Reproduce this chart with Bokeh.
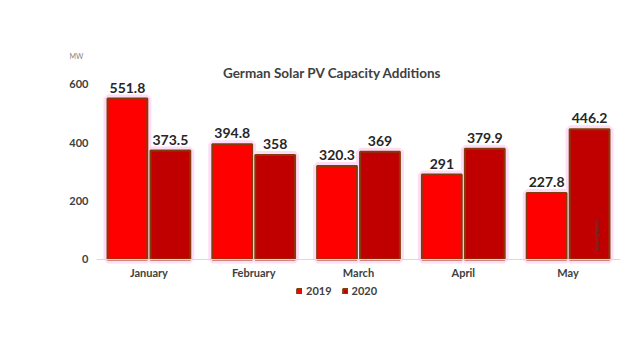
import math
from bokeh.plotting import figure
from bokeh.models import ColumnDataSource, FactorRange, FixedTicker, Label, Legend, LegendItem, Title
from bokeh.transform import dodge
from bokeh.core.properties import value
from bokeh.embed import file_html
from bokeh.resources import INLINE

months = ["January", "February", "March", "April", "May"]
y2019 = [551.8, 394.8, 320.3, 291, 227.8]
y2020 = [373.5, 358, 369, 379.9, 446.2]
y_ticks = [0, 200, 400, 600]

src = ColumnDataSource(dict(
    month=months,
    y2019=y2019,
    y2020=y2020,
    t2019=[f"{v:g}" for v in y2019],
    t2020=[f"{v:g}" for v in y2020],
))

FONT = "Lato"

p = figure(width=624, height=344, x_range=FactorRange(*months, range_padding=0),
           y_range=(-175, 689), output_backend="svg", toolbar_location=None,
           min_border_left=96, min_border_right=4, min_border_top=58, min_border_bottom=34)
p.outline_line_color = None
p.xgrid.visible = False
p.ygrid.visible = False

W = 0.38
OFF = 0.205
c19 = "#ff0000"
c20 = "#c00000"
edge = "#843c0c"
glow = "#ffdcf5"

x19 = dodge("month", -OFF, range=p.x_range)
x20 = dodge("month", OFF, range=p.x_range)

# glow
p.vbar(x=x19, top="y2019", width=W, source=src, fill_color=glow, line_color=glow, line_width=8)
p.vbar(x=x20, top="y2020", width=W, source=src, fill_color=glow, line_color=glow, line_width=8)
r19 = p.vbar(x=x19, top="y2019", width=W, source=src, fill_color=c19, line_color=edge, line_width=2)
r20 = p.vbar(x=x20, top="y2020", width=W, source=src, fill_color=c20, line_color=edge, line_width=2)

p.text(x=x19, y="y2019", text="t2019", source=src, text_align="center", text_baseline="bottom",
       y_offset=-6, text_font=value(FONT), text_font_style="bold", text_font_size="14px", text_color="#262626")
p.text(x=x20, y="y2020", text="t2020", source=src, text_align="center", text_baseline="bottom",
       y_offset=-6, text_font=value(FONT), text_font_style="bold", text_font_size="14px", text_color="#262626")

p.yaxis.ticker = FixedTicker(ticks=y_ticks)
p.yaxis.axis_line_color = None
p.yaxis.major_tick_line_color = None
p.yaxis.minor_tick_line_color = None
p.yaxis.major_tick_out = 0
p.yaxis.major_tick_in = 0
p.yaxis.major_label_text_font = FONT
p.yaxis.major_label_text_font_style = "bold"
p.yaxis.major_label_text_font_size = "11px"
p.yaxis.major_label_text_color = "#404040"
p.yaxis.major_label_standoff = 8

p.xaxis.fixed_location = 0
p.xaxis.axis_line_color = "#d9d9d9"
p.xaxis.major_tick_line_color = None
p.xaxis.minor_tick_line_color = None
p.xaxis.major_tick_out = 0
p.xaxis.major_tick_in = 0
p.xaxis.major_label_text_font = FONT
p.xaxis.major_label_text_font_style = "bold"
p.xaxis.major_label_text_font_size = "11px"
p.xaxis.major_label_text_color = "#404040"
p.xaxis.major_label_standoff = 7

p.add_layout(Label(x=236, y=238, x_units="screen", y_units="screen",
                   text="German Solar PV Capacity Additions", text_align="center", text_baseline="middle",
                   text_font=FONT, text_font_style="bold", text_font_size="13.5px", text_color="#404040"))
p.add_layout(Title(text="MW", align="left", offset=-27, standoff=-3,
                   text_font=FONT, text_font_style="normal", text_font_size="7px", text_color="#7f7f7f"), "above")
p.add_layout(Label(x=500, y=57, x_units="screen", y_units="screen", angle=math.pi / 2,
                   text="TaiyangNews", text_align="left", text_baseline="middle",
                   text_font=FONT, text_font_size="6px", text_color="#404040"))

legend = Legend(items=[LegendItem(label="2019", renderers=[r19]), LegendItem(label="2020", renderers=[r20])],
                orientation="horizontal", location=(200, 13), border_line_color=None,
                background_fill_alpha=0,
                label_text_font=FONT, label_text_font_style="bold", label_text_font_size="11px",
                label_text_color="#404040", glyph_width=6, glyph_height=6, spacing=10,
                label_standoff=4, padding=0, margin=0, label_height=12)
p.add_layout(legend, "center")

open("out.html", "w").write(file_html(p, INLINE))
